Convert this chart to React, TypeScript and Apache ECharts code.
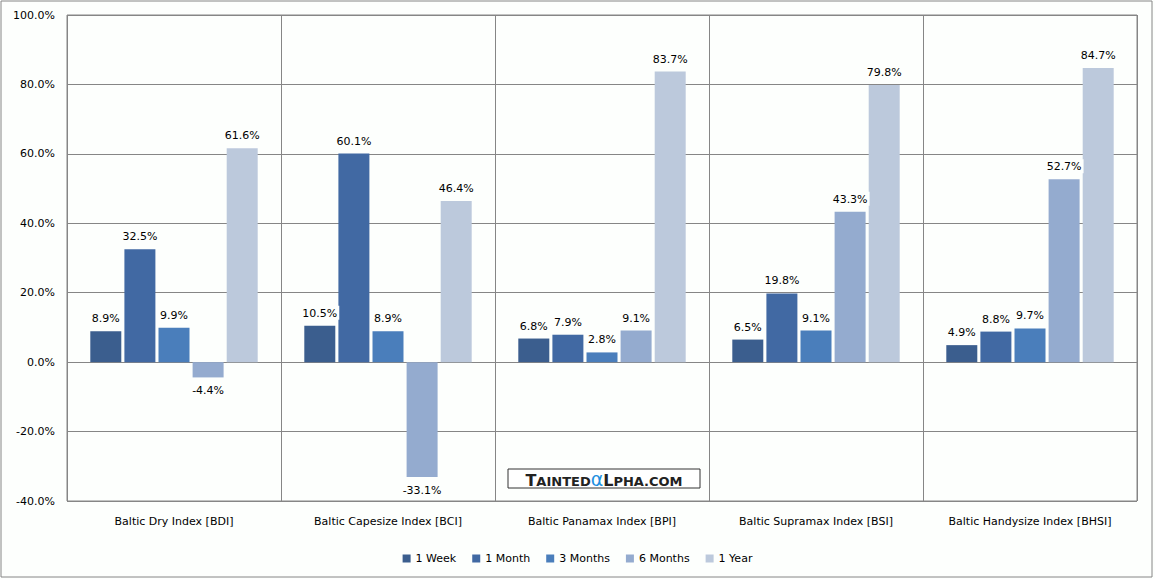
import React, { useEffect, useRef } from "react";
import * as echarts from "echarts";

const categories = [
  "Baltic Dry Index [BDI]",
  "Baltic Capesize Index [BCI]",
  "Baltic Panamax Index [BPI]",
  "Baltic Supramax Index [BSI]",
  "Baltic Handysize Index [BHSI]",
];
const seriesNames = ["1 Week", "1 Month", "3 Months", "6 Months", "1 Year"];
const week1 = [8.9, 10.5, 6.8, 6.5, 4.9];
const month1 = [32.5, 60.1, 7.9, 19.8, 8.8];
const months3 = [9.9, 8.9, 2.8, 9.1, 9.7];
const months6 = [-4.4, -33.1, 9.1, 43.3, 52.7];
const year1 = [61.6, 46.4, 83.7, 79.8, 84.7];
const colors = ["#3B5E8E", "#4169A3", "#4A7EBB", "#94ABCF", "#BCC9DC"];

export default function App() {
  const ref = useRef<HTMLDivElement>(null);
  useEffect(() => {
    if (!ref.current) return;
    const chart = echarts.init(ref.current, null, { renderer: "svg" });
    const font = "DejaVu Sans";
    const data = [week1, month1, months3, months6, year1];
    chart.setOption({
      animation: false,
      backgroundColor: "#FDFFFD",
      textStyle: { fontFamily: font },
      grid: {
        left: 67,
        right: 18,
        top: 15,
        bottom: 78,
        show: true,
        borderColor: "#868686",
        borderWidth: 1,
      },
      legend: {
        bottom: 10,
        left: "center",
        itemWidth: 8,
        itemHeight: 8,
        itemGap: 16,
        icon: "rect",
        textStyle: { fontFamily: font, fontSize: 11, color: "#000" },
        data: seriesNames,
      },
      xAxis: {
        type: "category",
        data: categories,
        axisTick: { show: false },
        axisLine: { show: false },
        axisLabel: { fontFamily: font, fontSize: 11, color: "#000", margin: 15 },
        splitLine: { show: true, lineStyle: { color: "#868686", width: 1 } },
      },
      yAxis: {
        type: "value",
        min: -40,
        max: 100,
        interval: 20,
        axisLine: { show: false },
        axisTick: { show: false },
        axisLabel: {
          fontFamily: font,
          fontSize: 11,
          color: "#000",
          margin: 12,
          formatter: (v: number) => v.toFixed(1) + "%",
        },
        splitLine: { show: true, lineStyle: { color: "#868686", width: 1 } },
      },
      graphic: [
        {
          type: "rect",
          shape: { x: 1, y: 1, width: 1151, height: 576 },
          style: { fill: "none", stroke: "#868686", lineWidth: 1 },
          silent: true,
          z: -1,
        },
        {
          type: "rect",
          shape: { x: 508, y: 469, width: 192, height: 19 },
          style: { fill: "#ffffff", stroke: "#333", lineWidth: 1 },
          z: 100,
        },
        {
          type: "text",
          x: 604,
          y: 479,
          z: 101,
          style: {
            text: "{b|T}{s|AINTED}{a|α}{b|L}{s|PHA.COM}",
            align: "center",
            verticalAlign: "middle",
            rich: {
              b: { fontFamily: "DejaVu Sans", fontWeight: "bold", fontSize: 16, fill: "#222", verticalAlign: "bottom", lineHeight: 18 },
              s: { fontFamily: "DejaVu Sans", fontWeight: "bold", fontSize: 13, fill: "#222", verticalAlign: "bottom", lineHeight: 18 },
              a: { fontFamily: "DejaVu Sans", fontSize: 19, fill: "#1E90E0", verticalAlign: "bottom", lineHeight: 18 },
            },
          },
        },
      ],
      series: seriesNames.map((name, i) => ({
        name,
        type: "bar",
        data: data[i].map((v) => ({
          value: v,
          label: { position: v < 0 ? "bottom" : "top" },
        })),
        barWidth: 31,
        barGap: "10%",
        itemStyle: { color: colors[i] },
        label: {
          show: true,
          distance: 6,
          formatter: (p: any) => p.value.toFixed(1) + "%",
          fontFamily: font,
          fontSize: 11,
          color: "#000",
          backgroundColor: "#FDFFFD",
          padding: [2, 2, 1, 2],
        },
      })),
    });
    return () => chart.dispose();
  }, []);
  return (
    <div
      ref={ref}
      style={{ position: "fixed", left: 0, top: 0, width: 1155, height: 579 }}
    />
  );
}
